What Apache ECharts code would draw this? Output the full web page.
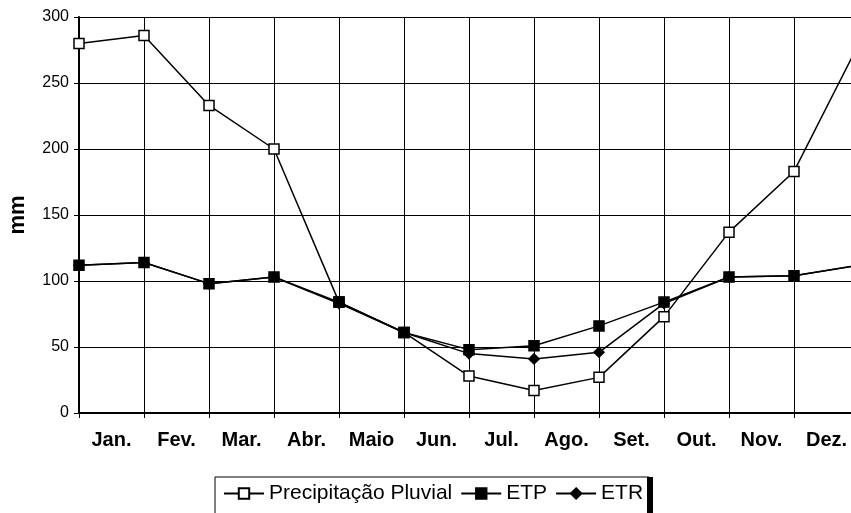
<!DOCTYPE html>
<html>
<head>
<meta charset="utf-8">
<script src="https://cdn.jsdelivr.net/npm/echarts@6/dist/echarts.min.js"></script>
<style>
    html, body { margin: 0; padding: 0; background: #fff; }
    #chart { width: 851px; height: 513px; }
</style>
</head>
<body>
<div id="chart"></div>
<script>
// Monthly values (mm)
var months = ['Jan.', 'Fev.', 'Mar.', 'Abr.', 'Maio', 'Jun.', 'Jul.', 'Ago.', 'Set.', 'Out.', 'Nov.', 'Dez.']
var precipitacao = [280, 286, 233, 200, 84, 61, 28, 17, 27, 73, 137, 183]
var etp = [112, 114, 98, 103, 84, 61, 48, 51, 66, 84, 103, 104]
var etr = [112, 114, 98, 103, 83, 61, 45, 41, 46, 83, 103, 104]
var yTicks = [0, 50, 100, 150, 200, 250, 300]

// the curve wraps round to January again, just past the right edge
function wrap(arr) {
    return arr.concat([arr[0]])
}

var font = 'Liberation Sans, Arial, sans-serif'

function lineSeries(name, values, symbol, size, fill) {
    return {
        name: name,
        type: 'line',
        data: wrap(values),
        xAxisIndex: 0,
        symbol: symbol,
        symbolSize: size,
        showAllSymbol: true,
        lineStyle: { color: '#000', width: 1.5 },
        itemStyle: { color: fill, borderColor: '#000', borderWidth: 1.5 },
        emphasis: { disabled: true },
        animation: false
    }
}

var option = {
    animation: false,
    textStyle: { fontFamily: font, color: '#000' },
    // plot runs on past the right edge of the picture (13th point is off-canvas)
    grid: { left: 79, width: 780, top: 17, height: 396, containLabel: false, outerBoundsMode: 'none' },
    xAxis: [{
        type: 'category',
        data: wrap(months),
        boundaryGap: false,
        axisLine: { lineStyle: { color: '#000', width: 2 } },
        axisTick: { show: true, length: 5, lineStyle: { color: '#000', width: 1 } },
        axisLabel: { show: false },
        splitLine: { show: true, lineStyle: { color: '#000', width: 1 } }
    }, {
        type: 'category',
        data: months,
        boundaryGap: true,
        position: 'bottom',
        axisLine: { show: false },
        axisTick: { show: false },
        splitLine: { show: false },
        axisLabel: {
            margin: 17,
            fontFamily: font,
            fontSize: 20,
            fontWeight: 'bold',
            color: '#000'
        }
    }],
    yAxis: {
        type: 'value',
        min: yTicks[0],
        max: yTicks[yTicks.length - 1],
        interval: yTicks[1] - yTicks[0],
        name: 'mm',
        nameLocation: 'middle',
        nameGap: 50,
        nameTextStyle: { fontFamily: font, fontSize: 22, fontWeight: 'bold', color: '#000' },
        axisLine: { show: true, lineStyle: { color: '#000', width: 2 } },
        axisTick: { show: true, length: 5, lineStyle: { color: '#000' } },
        axisLabel: { margin: 10, fontFamily: font, fontSize: 16, color: '#000' },
        splitLine: { show: true, lineStyle: { color: '#000', width: 1 } }
    },
    legend: {
        left: 215,
        top: 477,
        orient: 'horizontal',
        itemWidth: 40,
        itemHeight: 13,
        itemGap: 8,
        padding: [6, 6, 12, 8],
        backgroundColor: '#fff',
        borderColor: '#000',
        borderWidth: 1,
        borderRadius: 0,
        textStyle: { fontFamily: font, fontSize: 21, color: '#000' },
        data: ['Precipitação Pluvial', 'ETP', 'ETR']
    },
    // heavy right edge of the legend frame
    graphic: [{
        type: 'rect',
        left: 647,
        top: 477,
        shape: { width: 6, height: 40 },
        style: { fill: '#000' },
        z: 100
    }],
    series: [
        lineSeries('Precipitação Pluvial', precipitacao, 'rect', 10, '#fff'),
        lineSeries('ETP', etp, 'rect', 10, '#000'),
        lineSeries('ETR', etr, 'diamond', 10, '#000')
    ]
}

var chart = echarts.init(document.getElementById('chart'), null, { renderer: 'canvas' })
chart.setOption(option)
</script>
</body>
</html>
